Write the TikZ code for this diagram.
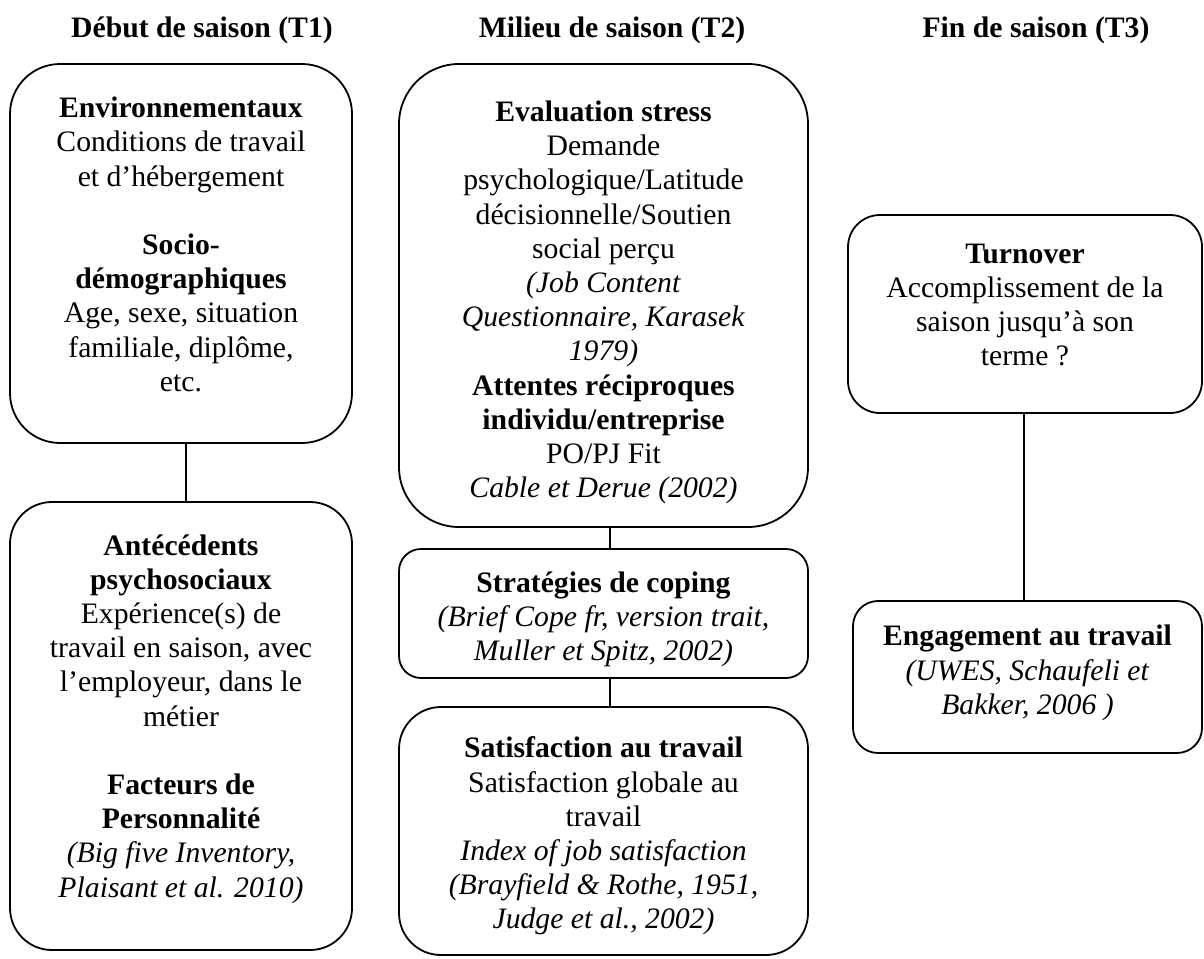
\documentclass[tikz,border=0pt]{standalone}
\usepackage{fontspec}
\setmainfont{Liberation Serif}
\begin{document}
\begin{tikzpicture}[x=1pt,y=-1pt,
  boxnode/.style={draw, line width=1.8pt, inner sep=0pt},
  boxtext/.style={align=center, inner sep=0pt, font=\fontsize{29.7}{34.2}\selectfont},
  titlenode/.style={font=\fontsize{29.7}{34.2}\selectfont\bfseries, inner sep=0pt},
  link/.style={line width=1.8pt}]
\useasboundingbox (0,0) rectangle (1204,958);

% titles
\node[titlenode] (t1) at (202,30) {Début de saison (T1)};
\node[titlenode] (t2) at (612,30) {Milieu de saison (T2)};
\node[titlenode] (t3) at (1036,30) {Fin de saison (T3)};

% column 1
\node[boxnode, rounded corners=50pt, minimum width=342pt, minimum height=379pt] (b1) at (181,253.5) {};
\node[boxtext] (b1t) at (181,244.5)
 {\textbf{Environnementaux}\\Conditions de travail\\et d’hébergement\\[34.2pt]\textbf{Socio-}\\\textbf{démographiques}\\Age, sexe, situation\\familiale, diplôme,\\etc.};
\node[boxnode, rounded corners=42pt, minimum width=342pt, minimum height=448pt] (b2) at (181,726) {};
\node[boxtext] (b2t) at (181,719)
 {\textbf{Antécédents}\\\textbf{psychosociaux}\\Expérience(s) de\\travail en saison, avec\\l’employeur, dans le\\métier\\[34.2pt]\textbf{Facteurs de}\\\textbf{Personnalité}\\\textit{(Big five Inventory,}\\\textit{Plaisant et al. 2010)}};

% column 2
\node[boxnode, rounded corners=60pt, minimum width=409pt, minimum height=463pt] (b3) at (603.5,295.5) {};
\node[boxtext] (b3t) at (603.5,302.5)
 {\textbf{Evaluation stress}\\Demande\\psychologique/Latitude\\décisionnelle/Soutien\\social perçu\\\textit{(Job Content}\\\textit{Questionnaire, Karasek}\\\textit{1979)}\\\textbf{Attentes réciproques}\\\textbf{individu/entreprise}\\PO/PJ Fit\\\textit{Cable et Derue (2002)}};
\node[boxnode, rounded corners=22pt, minimum width=409pt, minimum height=129pt] (b4) at (603.5,613.5) {};
\node[boxtext] (b4t) at (603.5,619.5)
 {\textbf{Stratégies de coping}\\\textit{(Brief Cope fr, version trait,}\\\textit{Muller et Spitz, 2002)}};
\node[boxnode, rounded corners=42pt, minimum width=409pt, minimum height=248pt] (b5) at (603.5,831) {};
\node[boxtext] (b5t) at (603.5,836)
 {\textbf{Satisfaction au travail}\\Satisfaction globale au\\travail\\\textit{Index of job satisfaction}\\\textit{(Brayfield \& Rothe, 1951,}\\\textit{Judge et al., 2002)}};

% column 3
\node[boxnode, rounded corners=32pt, minimum width=354pt, minimum height=198pt] (b6) at (1025,314) {};
\node[boxtext] (b6t) at (1025,305)
 {\textbf{Turnover}\\Accomplissement de la\\saison jusqu’à son\\terme ?};
\node[boxnode, rounded corners=25pt, minimum width=349pt, minimum height=152pt] (b7) at (1027.5,677) {};
\node[boxtext] (b7t) at (1027.5,673)
 {\textbf{Engagement au travail}\\\textit{(UWES, Schaufeli et}\\\textit{Bakker, 2006 )}};

% connectors
\coordinate (c1) at (186,0);
\coordinate (c2) at (610,0);
\coordinate (c3) at (1024,0);
\draw[link] (b1.south -| c1) -- (b2.north -| c1);
\draw[link] (b3.south -| c2) -- (b4.north -| c2);
\draw[link] (b4.south -| c2) -- (b5.north -| c2);
\draw[link] (b6.south -| c3) -- (b7.north -| c3);
\end{tikzpicture}
\end{document}
